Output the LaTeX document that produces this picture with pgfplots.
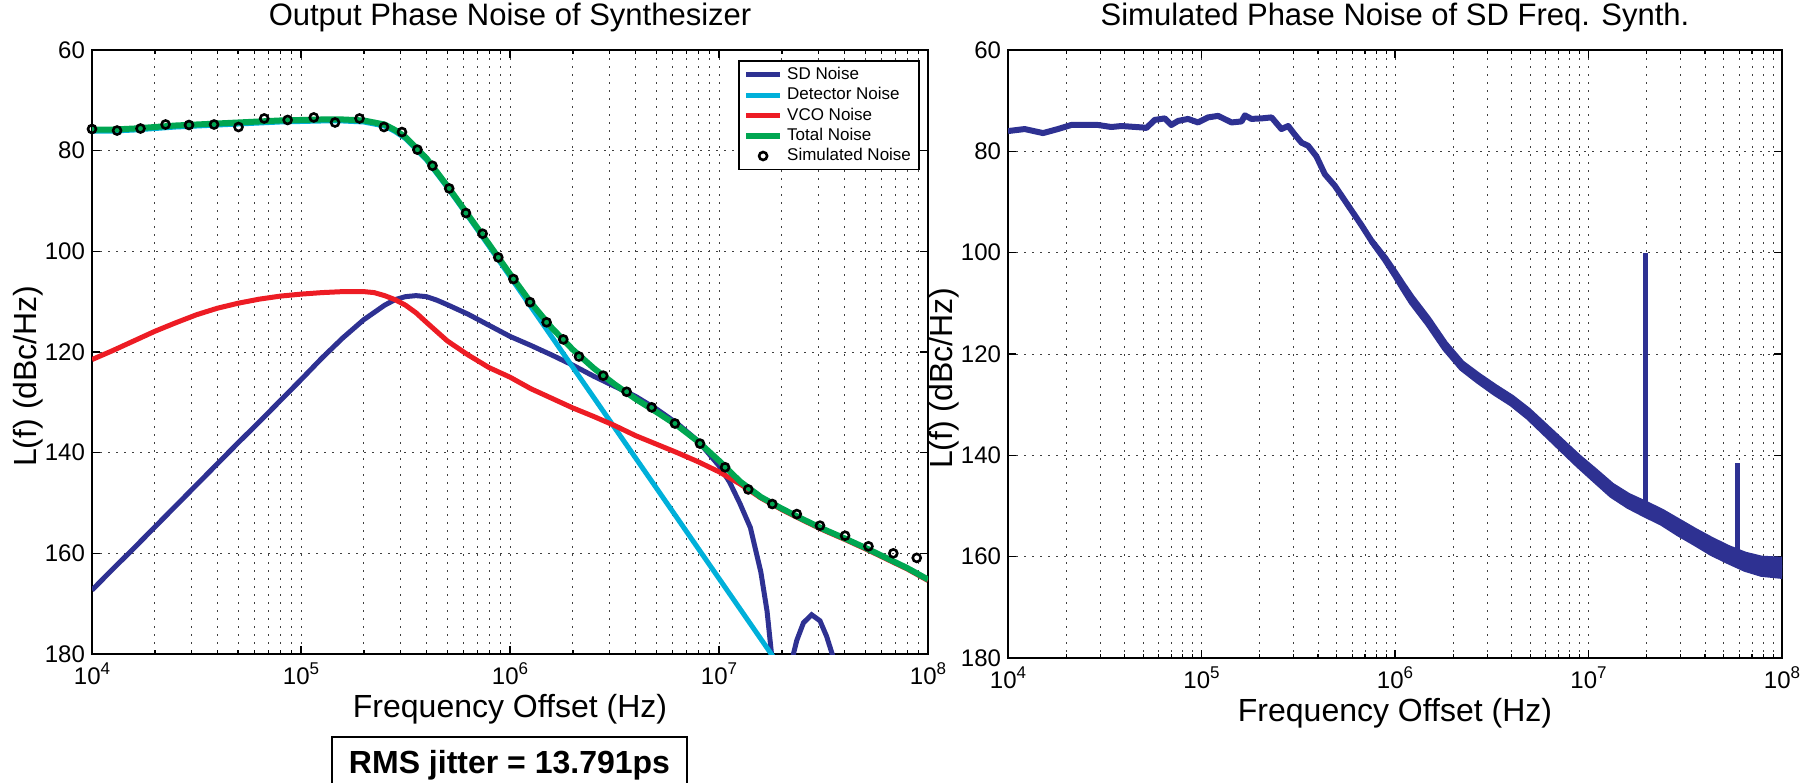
\documentclass[border=0pt]{standalone}
\usepackage{pgfplots}
\pgfplotsset{compat=1.18}
\usepackage{fontspec}
\setmainfont{Liberation Sans}

\definecolor{sdblue}{RGB}{46,49,146}
\definecolor{detcyan}{RGB}{0,176,218}
\definecolor{vcored}{RGB}{237,28,36}
\definecolor{totgreen}{RGB}{0,166,81}

\newcommand{\dec}[1]{10\raisebox{5pt}{\fontsize{8.5}{8.5}\selectfont #1}}

\begin{document}
\begin{tikzpicture}

\begin{axis}[
  xmode=log, y dir=reverse,
  scale only axis,
  xmin=1e4, xmax=1e8, ymin=60, ymax=180,
  xtick={1e4,1e5,1e6,1e7,1e8},
  xticklabels={\dec{4},\dec{5},\dec{6},\dec{7},\dec{8}},
  ytick={60,80,...,180},
  xmajorgrids, xminorgrids, ymajorgrids,
  major grid style={black!75, line width=0.5pt, dash pattern=on 1pt off 3pt},
  minor grid style={black!75, line width=0.5pt, dash pattern=on 1pt off 3pt},
  tick align=inside,
  major tick length=4pt, minor tick length=2pt,
  tick style={black, line width=0.6pt},
  /pgf/number format/assume math mode=true,
  tick label style={font=\fontsize{12}{12}\selectfont},
  x tick label style={anchor=base, yshift=-15pt},
  title style={font=\fontsize{15.5}{15.5}\selectfont, anchor=base, yshift=6.5pt},
  xlabel={Frequency Offset (Hz)},
  ylabel={L(f) (dBc/Hz)},
  xlabel style={at={(axis description cs:0.5,0)}, anchor=base, yshift=-31.5pt, font=\fontsize{16}{16}\selectfont},
  ylabel style={at={(axis description cs:-0.0766,0.46)}, anchor=center, font=\fontsize{16}{16}\selectfont},
  at={(46pt,64pt)}, anchor=south west, width=418pt, height=302pt,
  axis line style={line width=1.3pt},
  title={Output Phase Noise of Synthesizer},
  legend cell align=left,
  legend style={at={(0.773,0.983)}, anchor=north west, draw=black, line width=0.8pt,
    font=\fontsize{8.5}{9.5}\selectfont, inner xsep=2pt, inner ysep=1pt, row sep=-1.5pt},
]

% SD noise
\addplot[sdblue, line width=2.5pt] coordinates {
(1e4,167.3) (1.259e4,163.1) (1.585e4,159.0) (1.995e4,154.8) (2.512e4,150.6)
(3.162e4,146.4) (3.981e4,142.2) (5.012e4,138.0) (6.310e4,133.9) (7.943e4,129.7)
(1e5,125.5) (1.259e5,121.2) (1.585e5,117.2) (1.995e5,113.6) (2.512e5,110.7)
(2.818e5,109.6) (3.162e5,109.0) (3.548e5,108.8) (3.981e5,109.0) (4.467e5,109.7)
(5.012e5,110.6) (6.310e5,112.5) (7.943e5,114.7) (1e6,116.9) (1.259e6,118.7)
(1.585e6,120.6) (1.995e6,122.6) (2.512e6,124.8) (3.162e6,126.8) (3.981e6,128.8)
(5.012e6,131.3) (6.310e6,134.2) (7.943e6,137.7) (1e7,142.6) (1.122e7,145.8)
(1.259e7,150.1) (1.413e7,154.9) (1.585e7,163.7) (1.698e7,171.5) (1.778e7,179.5)
(1.862e7,195) (2.188e7,195) (2.270e7,180) (2.355e7,177.3) (2.535e7,173.8)
(2.773e7,172.2) (3.041e7,173.4) (3.273e7,176.5) (3.516e7,180.6) (3.631e7,195)
};
\addlegendentry{SD Noise}

% Detector noise
\addplot[detcyan, line width=2.5pt] coordinates {
(1e4,76.1) (1.259e4,76.1) (1.585e4,75.9) (1.995e4,75.6) (2.512e4,75.3)
(3.162e4,75.1) (3.981e4,74.9) (5.012e4,74.7) (6.310e4,74.5) (7.943e4,74.3)
(1e5,74.2) (1.259e5,74.1) (1.585e5,74.1) (1.995e5,74.3) (2.512e5,75.1)
(2.818e5,76.2) (3.162e5,77.6) (3.981e5,81.8) (5.012e5,87.3) (6.310e5,93.1)
(7.943e5,99.0) (1e6,105.0) (1.259e6,111.0) (1.585e6,117.0) (1.995e6,123.0)
(2.512e6,129.0) (3.162e6,135.0) (3.981e6,141.0) (5.012e6,147.0) (6.310e6,153.0)
(7.943e6,159.0) (1e7,165.0) (1.259e7,171.0) (1.585e7,177.0) (1.995e7,183.0)
};
\addlegendentry{Detector Noise}

% VCO noise
\addplot[vcored, line width=2.5pt] coordinates {
(1e4,121.5) (1.259e4,119.7) (1.585e4,117.8) (1.995e4,115.9) (2.512e4,114.2)
(3.162e4,112.6) (3.981e4,111.3) (5.012e4,110.3) (6.310e4,109.5) (7.943e4,108.9)
(1e5,108.5) (1.259e5,108.2) (1.585e5,108.0) (1.995e5,108.0) (2.239e5,108.2)
(2.512e5,108.8) (2.818e5,109.6) (3.162e5,110.7) (3.548e5,112.2) (3.981e5,114.1)
(5.012e5,117.8) (6.310e5,120.6) (7.943e5,123.1) (1e6,125.0) (1.259e6,127.3)
(1.585e6,129.2) (1.995e6,131.1) (2.512e6,132.8) (3.162e6,134.6) (3.981e6,136.6)
(5.012e6,138.3) (6.310e6,140.0) (7.943e6,141.8) (1e7,143.8) (1.259e7,146.2)
(1.585e7,149.0) (1.995e7,151.3) (2.512e7,153.4) (3.162e7,155.4) (3.981e7,157.2)
(5.012e7,159.1) (6.310e7,161.1) (7.943e7,163.1) (1e8,165.4)
};
\addlegendentry{VCO Noise}

% Total noise
\addplot[totgreen, line width=3pt] coordinates {
(1e4,75.8) (1.259e4,75.8) (1.585e4,75.6) (1.995e4,75.3) (2.512e4,75.0)
(3.162e4,74.8) (3.981e4,74.6) (5.012e4,74.4) (6.310e4,74.2) (7.943e4,74.0)
(1e5,73.9) (1.259e5,73.8) (1.585e5,73.8) (1.995e5,74.0) (2.512e5,74.8)
(2.818e5,75.9) (3.162e5,77.3) (3.981e5,81.5) (5.012e5,87.0) (6.310e5,92.8)
(7.943e5,98.6) (1e6,104.5) (1.259e6,110.2) (1.585e6,115.2) (1.995e6,119.5)
(2.512e6,123.2) (3.162e6,126.4) (3.981e6,129.3) (5.012e6,131.9) (6.310e6,134.6)
(7.943e6,137.8) (1e7,141.6) (1.259e7,145.7) (1.585e7,148.8) (1.995e7,151.1)
(2.512e7,153.2) (3.162e7,155.2) (3.981e7,157.0) (5.012e7,158.9) (6.310e7,160.9)
(7.943e7,162.9) (1e8,165.2)
};
\addlegendentry{Total Noise}

% Simulated noise
\addplot[only marks, mark=o, mark size=2pt, mark options={black, line width=1.3pt}] coordinates {
(1.000e4,75.7) (1.318e4,76.0) (1.706e4,75.6) (2.249e4,74.8) (2.911e4,74.9)
(3.837e4,74.8) (5.023e4,75.3) (6.668e4,73.6) (8.630e4,73.9) (1.151e5,73.4)
(1.455e5,74.4) (1.905e5,73.6) (2.495e5,75.3) (3.041e5,76.3) (3.606e5,79.8)
(4.256e5,83.0) (5.117e5,87.5) (6.152e5,92.4) (7.396e5,96.5) (8.790e5,101.2)
(1.038e6,105.5) (1.247e6,110.1) (1.496e6,114.1) (1.799e6,117.5) (2.138e6,120.9)
(2.793e6,124.7) (3.614e6,127.9) (4.764e6,131.0) (6.152e6,134.2) (8.110e6,138.2)
(1.069e7,142.9) (1.380e7,147.3) (1.799e7,150.2) (2.355e7,152.2) (3.041e7,154.5)
(4.009e7,156.5) (5.188e7,158.6) (6.823e7,160.0) (8.831e7,160.9)
};
\addlegendentry{Simulated Noise}
\end{axis}

\begin{axis}[
  xmode=log, y dir=reverse,
  scale only axis,
  xmin=1e4, xmax=1e8, ymin=60, ymax=180,
  xtick={1e4,1e5,1e6,1e7,1e8},
  xticklabels={\dec{4},\dec{5},\dec{6},\dec{7},\dec{8}},
  ytick={60,80,...,180},
  xmajorgrids, xminorgrids, ymajorgrids,
  major grid style={black!75, line width=0.5pt, dash pattern=on 1pt off 3pt},
  minor grid style={black!75, line width=0.5pt, dash pattern=on 1pt off 3pt},
  tick align=inside,
  major tick length=4pt, minor tick length=2pt,
  tick style={black, line width=0.6pt},
  /pgf/number format/assume math mode=true,
  tick label style={font=\fontsize{12}{12}\selectfont},
  x tick label style={anchor=base, yshift=-15pt},
  title style={font=\fontsize{15.5}{15.5}\selectfont, anchor=base, yshift=6.5pt},
  xlabel={Frequency Offset (Hz)},
  ylabel={L(f) (dBc/Hz)},
  xlabel style={at={(axis description cs:0.5,0)}, anchor=base, yshift=-31.5pt, font=\fontsize{16}{16}\selectfont},
  ylabel style={at={(axis description cs:-0.0827,0.46)}, anchor=center, font=\fontsize{16}{16}\selectfont},
  at={(504pt,62pt)}, anchor=south west, width=387pt, height=304pt,
  axis line style={line width=0.6pt},
  title={Simulated Phase Noise of SD Freq. Synth.},
]
\addplot[sdblue, line width=3pt, line join=round] coordinates {
(1.000e4,76.0) (1.219e4,75.6) (1.517e4,76.4) (1.811e4,75.6) (2.123e4,74.8)
(2.917e4,74.8) (3.420e4,75.2) (3.855e4,75.0) (4.989e4,75.3) (5.188e4,75.4)
(5.728e4,73.8) (6.457e4,73.5) (6.982e4,74.8) (7.568e4,74.0) (8.511e4,73.6)
(9.594e4,74.3) (1.081e5,73.3) (1.219e5,73.0) (1.429e5,74.3) (1.611e5,74.1)
(1.675e5,72.9) (1.811e5,73.6) (2.042e5,73.5) (2.301e5,73.3) (2.588e5,75.6)
(2.805e5,75.0) (3.034e5,76.7) (3.289e5,78.3) (3.556e5,78.9) (3.926e5,81.0)
(4.335e5,84.5) (4.887e5,86.8) (5.728e5,90.7) (6.714e5,94.6) (7.568e5,97.7)
(8.872e5,101.2) (1.000e6,104.2) (1.104e6,106.8) (1.219e6,109.3) (1.486e6,113.6)
(1.811e6,118.4) (2.213e6,122.3) (2.698e6,124.8) (3.289e6,127.1) (4.009e6,129.2)
(4.887e6,131.8) (5.957e6,134.9) (7.261e6,138.0) (8.851e6,141.1) (1.081e7,144.0)
(1.318e7,146.9) (1.607e7,149.0) (1.959e7,150.6) (2.388e7,152.2) (2.911e7,154.2)
(3.548e7,156.1) (4.335e7,158.0) (5.284e7,159.6) (6.442e7,161.0) (7.852e7,161.9)
(1.000e8,162.2)
};
% noise band: upper envelope then lower envelope
\addplot[sdblue, fill=sdblue, line width=3pt, line join=round] coordinates {
(7.568e5,97.7) (8.872e5,101.0) (1.000e6,103.9) (1.104e6,106.4) (1.219e6,108.8)
(1.486e6,113.1) (1.811e6,117.9) (2.213e6,121.8) (2.698e6,124.25) (3.289e6,126.5)
(4.009e6,128.6) (4.887e6,131.15) (5.957e6,134.2) (7.261e6,137.25) (8.851e6,140.3)
(1.081e7,143.1) (1.318e7,145.95) (1.607e7,148.0) (1.959e7,149.5) (2.388e7,151.1)
(2.911e7,153.0) (3.548e7,154.9) (4.335e7,156.7) (5.284e7,158.3) (6.442e7,159.6)
(7.852e7,160.4) (1.000e8,160.6)
(1.000e8,163.8) (7.852e7,163.4) (6.442e7,162.4) (5.284e7,160.9) (4.335e7,159.3)
(3.548e7,157.3) (2.911e7,155.4) (2.388e7,153.3) (1.959e7,151.7) (1.607e7,150.0)
(1.318e7,147.85) (1.081e7,144.9) (8.851e6,141.9) (7.261e6,138.75) (5.957e6,135.6)
(4.887e6,132.45) (4.009e6,129.8) (3.289e6,127.7) (2.698e6,125.35) (2.213e6,122.8)
(1.811e6,118.9) (1.486e6,114.1) (1.219e6,109.8) (1.104e6,107.2) (1.000e6,104.5)
(8.872e5,101.4) (7.568e5,97.7)
};
% spurs
\addplot[sdblue, line width=2.5pt] coordinates {(1.97e7,150.6) (1.97e7,100.0)};
\addplot[sdblue, line width=2.5pt] coordinates {(5.902e7,160.5) (5.902e7,141.5)};
\end{axis}

\draw[line width=0.9pt] (166pt,-5pt) rectangle (343.5pt,22.5pt);
\node[anchor=base, font=\fontsize{16}{16}\selectfont\bfseries, inner sep=0pt] at (254.75pt,4.5pt) {RMS jitter = 13.791ps};

\pgfresetboundingbox
\useasboundingbox (0pt,0pt) rectangle (907pt,391pt);
\end{tikzpicture}
\end{document}
